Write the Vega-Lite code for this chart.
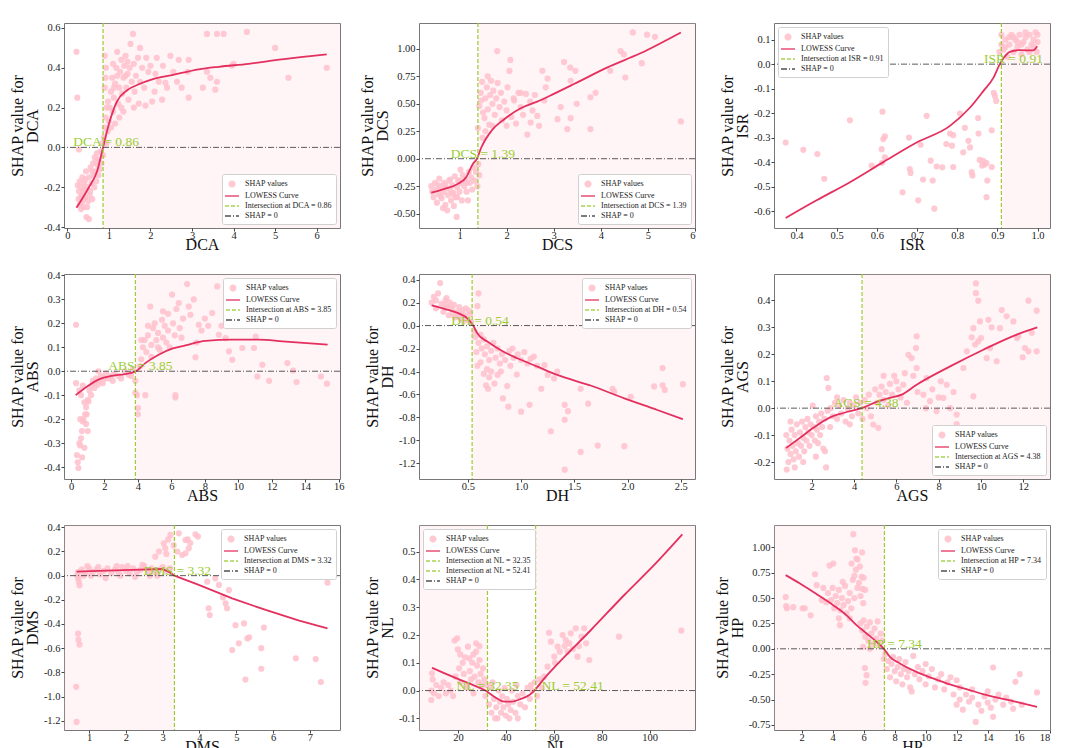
{
"$schema": "https://vega.github.io/schema/vega-lite/v6.json",
"autosize": {"type": "pad"},
"padding": {"left": 8, "top": 21, "right": 2, "bottom": 0},
"background": "white",
"columns": 3,
"bounds": "flush",
"spacing": {"row": 46, "column": 79},
"resolve": {"scale": {"color": "independent"}, "legend": {"color": "independent"}},
"config": {
  "font": "Liberation Serif",
  "view": {"stroke": "#777777", "strokeWidth": 1},
  "axis": {"grid": false, "domain": false, "labelOverlap": false, "labelFont": "Liberation Serif", "labelFontSize": 10.5, "labelColor": "#222222", "titleFont": "Liberation Serif", "titleFontSize": 16, "titleFontWeight": "normal", "titleColor": "#111111", "tickColor": "#444444", "tickSize": 3, "labelPadding": 1},
  "axisX": {"titlePadding": -4, "labelPadding": -1},
  "axisY": {"titlePadding": 3, "titleLineHeight": 15},
  "legend": {"labelFont": "Liberation Serif", "labelFontSize": 8, "labelColor": "#222222", "fillColor": "#ffffff", "strokeColor": "#d0d0d0", "padding": 4, "cornerRadius": 2, "rowPadding": 0, "symbolSize": 100, "symbolStrokeWidth": 1.6, "labelOffset": 7, "offset": 4, "labelLimit": 200}
},
"concat": [
{
 "width": 276, "height": 205,
 "layer": [
  {"data": {"values": [{"x": 0.86, "x2": 6.56}]}, "mark": {"type": "rect", "color": "#FFC0CB", "opacity": 0.18},
   "encoding": {"x": {"field": "x", "type": "quantitative", "title": "DCA", "scale": {"domain": [-0.08, 6.56], "nice": false, "zero": false}, "axis": {"values": [0,1,2,3,4,5,6], "tickCount": 20, "format": "d", "labelOverlap": false}}, "x2": {"field": "x2"}}},
  {"data": {"values": [{"x":0.22,"y":0.48},{"x":0.24,"y":0.25},{"x":0.28,"y":-0.01},{"x":0.25,"y":-0.19},{"x":0.28,"y":-0.22},{"x":0.3,"y":-0.17},{"x":0.32,"y":-0.25},{"x":0.33,"y":-0.2},{"x":0.35,"y":-0.28},{"x":0.36,"y":-0.15},{"x":0.38,"y":-0.22},{"x":0.4,"y":-0.3},{"x":0.41,"y":-0.18},{"x":0.43,"y":-0.25},{"x":0.45,"y":-0.12},{"x":0.46,"y":-0.35},{"x":0.47,"y":-0.2},{"x":0.5,"y":-0.27},{"x":0.52,"y":-0.36},{"x":0.52,"y":-0.15},{"x":0.55,"y":-0.22},{"x":0.56,"y":-0.1},{"x":0.58,"y":-0.18},{"x":0.6,"y":-0.26},{"x":0.62,"y":-0.08},{"x":0.63,"y":-0.14},{"x":0.65,"y":-0.2},{"x":0.66,"y":-0.05},{"x":0.68,"y":-0.12},{"x":0.7,"y":-0.17},{"x":0.71,"y":-0.03},{"x":0.73,"y":-0.09},{"x":0.75,"y":-0.14},{"x":0.76,"y":-0.06},{"x":0.78,"y":-0.11},{"x":0.8,"y":-0.02},{"x":0.82,"y":-0.08},{"x":0.84,"y":0.02},{"x":0.86,"y":-0.04},{"x":0.3,"y":-0.29},{"x":0.35,"y":-0.24},{"x":0.42,"y":-0.21},{"x":0.48,"y":-0.3},{"x":0.38,"y":-0.26},{"x":0.27,"y":-0.26},{"x":0.33,"y":-0.31},{"x":0.44,"y":-0.16},{"x":0.54,"y":-0.24},{"x":0.6,"y":-0.12},{"x":0.69,"y":-0.07},{"x":0.88,"y":0.05},{"x":0.9,"y":0.1},{"x":0.92,"y":0.15},{"x":0.94,"y":0.02},{"x":0.95,"y":0.2},{"x":0.97,"y":0.08},{"x":0.98,"y":0.23},{"x":1.0,"y":0.13},{"x":0.9,"y":0.3},{"x":0.93,"y":0.4},{"x":0.9,"y":0.46},{"x":0.92,"y":0.35},{"x":1.02,"y":0.2},{"x":1.05,"y":0.28},{"x":1.08,"y":0.35},{"x":1.1,"y":0.42},{"x":1.12,"y":0.25},{"x":1.15,"y":0.32},{"x":1.18,"y":0.4},{"x":1.2,"y":0.48},{"x":1.22,"y":0.22},{"x":1.25,"y":0.3},{"x":1.27,"y":0.38},{"x":1.3,"y":0.44},{"x":1.32,"y":0.27},{"x":1.35,"y":0.35},{"x":1.37,"y":0.41},{"x":1.4,"y":0.46},{"x":1.42,"y":0.3},{"x":1.45,"y":0.37},{"x":1.47,"y":0.24},{"x":1.5,"y":0.4},{"x":1.52,"y":0.52},{"x":1.55,"y":0.33},{"x":1.58,"y":0.57},{"x":1.6,"y":0.42},{"x":1.62,"y":0.28},{"x":1.65,"y":0.36},{"x":1.7,"y":0.45},{"x":1.72,"y":0.22},{"x":1.75,"y":0.33},{"x":1.8,"y":0.4},{"x":1.85,"y":0.3},{"x":1.9,"y":0.45},{"x":1.95,"y":0.38},{"x":1.1,"y":0.18},{"x":1.15,"y":0.12},{"x":1.25,"y":0.15},{"x":1.05,"y":0.1},{"x":1.3,"y":0.2},{"x":1.2,"y":0.36},{"x":1.4,"y":0.36},{"x":1.35,"y":0.18},{"x":1.6,"y":0.2},{"x":1.45,"y":0.43},{"x":1.12,"y":0.3},{"x":2.0,"y":0.41},{"x":2.04,"y":0.23},{"x":2.12,"y":0.37},{"x":1.88,"y":0.21},{"x":2.2,"y":0.33},{"x":2.28,"y":0.24},{"x":2.36,"y":0.325},{"x":2.48,"y":0.46},{"x":2.64,"y":0.33},{"x":2.68,"y":0.44},{"x":2.9,"y":0.38},{"x":2.92,"y":0.44},{"x":2.92,"y":0.25},{"x":2.3,"y":0.41},{"x":2.55,"y":0.38},{"x":2.75,"y":0.3},{"x":3.26,"y":0.3},{"x":3.36,"y":0.38},{"x":3.44,"y":0.35},{"x":3.56,"y":0.29},{"x":3.6,"y":0.33},{"x":3.36,"y":0.57},{"x":3.6,"y":0.57},{"x":3.76,"y":0.57},{"x":4.32,"y":0.58},{"x":3.96,"y":0.41},{"x":4.0,"y":0.42},{"x":5.0,"y":0.5},{"x":5.32,"y":0.35},{"x":6.24,"y":0.4},{"x":2.1,"y":0.28},{"x":2.4,"y":0.3},{"x":1.75,"y":0.5},{"x":2.15,"y":0.45}]},
   "mark": {"type": "circle", "size": 38, "opacity": 0.85},
   "encoding": {"x": {"field": "x", "type": "quantitative"}, "y": {"field": "y", "type": "quantitative", "title": ["SHAP value for", "DCA"], "scale": {"domain": [-0.405, 0.625], "nice": false, "zero": false}, "axis": {"values": [-0.4,-0.2,0,0.2,0.4,0.6], "tickCount": 20, "format": ".1f", "labelOverlap": false, "labelExpr": "replace(datum.label, '\u2212', '-')"}},
    "color": {"datum": "SHAP values", "scale": {"domain": ["SHAP values", "LOWESS Curve", "Intersection at DCA = 0.86", "SHAP = 0"], "range": ["#FFC0CB", "#E4305F", "#9ACD32", "#333333"]},
     "legend": {"title": null, "orient": "bottom-right",
      "encoding": {"symbols": {
       "shape": {"value": {"expr": "datum.value === 'SHAP values' ? 'circle' : 'M-1.4,0H1.4'"}},
       "size": {"value": {"expr": "datum.value === 'SHAP values' ? 30 : 100"}},
       "fill": {"value": {"expr": "datum.value === 'SHAP values' ? '#FFC0CB' : 'transparent'"}},
       "stroke": {"value": {"expr": "datum.value === 'SHAP values' ? 'transparent' : (datum.value === 'LOWESS Curve' ? '#E4305F' : (indexof(datum.value, 'Intersection') === 0 ? '#9ACD32' : '#333333'))"}},
       "strokeDash": {"value": {"expr": "indexof(datum.value, 'Intersection') === 0 ? [4, 2] : (datum.value === 'SHAP = 0' ? [6, 2, 1, 2] : [1, 0])"}},
       "strokeWidth": {"value": 1.6}}}}}}},
  {"data": {"values": [{"x":0.22,"y":-0.303},{"x":0.52,"y":-0.2},{"x":0.72,"y":-0.117},{"x":0.86,"y":0},{"x":1.0,"y":0.117},{"x":1.2,"y":0.233},{"x":1.44,"y":0.287},{"x":1.72,"y":0.317},{"x":2.04,"y":0.342},{"x":2.52,"y":0.363},{"x":3.16,"y":0.392},{"x":3.64,"y":0.405},{"x":4.36,"y":0.42},{"x":5.16,"y":0.442},{"x":6.24,"y":0.467}]},
   "mark": {"type": "line", "strokeWidth": 1.8, "interpolate": "monotone"},
   "encoding": {"x": {"field": "x", "type": "quantitative"}, "y": {"field": "y", "type": "quantitative"}, "color": {"datum": "LOWESS Curve"}}},
  {"data": {"values": [{"x": 0.86}]}, "mark": {"type": "rule", "strokeDash": [4, 2], "strokeWidth": 1.2},
   "encoding": {"x": {"field": "x", "type": "quantitative"}, "color": {"datum": "Intersection at DCA = 0.86"}}},
  {"data": {"values": [{"y": 0}]}, "mark": {"type": "rule", "strokeDash": [6, 2, 1, 2], "strokeWidth": 1, "opacity": 0.8},
   "encoding": {"y": {"field": "y", "type": "quantitative"}, "color": {"datum": "SHAP = 0"}}},
  {"data": {"values": [{"x": 0.86, "y": 0, "label": "DCA = 0.86"}]}, "mark": {"type": "text", "font": "Liberation Serif", "fontSize": 13.5, "color": "#9ACD32", "align": "center", "baseline": "alphabetic", "dx": 3, "dy": -1},
   "encoding": {"x": {"field": "x", "type": "quantitative"}, "y": {"field": "y", "type": "quantitative"}, "text": {"field": "label"}}}
 ]
},
{
 "width": 276, "height": 205,
 "layer": [
  {"data": {"values": [{"x": 1.39, "x2": 6.0}]}, "mark": {"type": "rect", "color": "#FFC0CB", "opacity": 0.18},
   "encoding": {"x": {"field": "x", "type": "quantitative", "title": "DCS", "scale": {"domain": [0.14, 6.0], "nice": false, "zero": false}, "axis": {"values": [1,2,3,4,5,6], "tickCount": 20, "format": "d", "labelOverlap": false}}, "x2": {"field": "x2"}}},
  {"data": {"values": [{"x":0.4,"y":-0.25},{"x":0.42,"y":-0.3},{"x":0.45,"y":-0.35},{"x":0.48,"y":-0.22},{"x":0.5,"y":-0.28},{"x":0.52,"y":-0.4},{"x":0.55,"y":-0.32},{"x":0.57,"y":-0.18},{"x":0.6,"y":-0.26},{"x":0.62,"y":-0.36},{"x":0.65,"y":-0.3},{"x":0.67,"y":-0.22},{"x":0.7,"y":-0.42},{"x":0.72,"y":-0.27},{"x":0.74,"y":-0.47},{"x":0.75,"y":-0.33},{"x":0.78,"y":-0.2},{"x":0.8,"y":-0.28},{"x":0.82,"y":-0.38},{"x":0.85,"y":-0.24},{"x":0.87,"y":-0.31},{"x":0.9,"y":-0.16},{"x":0.92,"y":-0.35},{"x":0.94,"y":-0.53},{"x":0.95,"y":-0.26},{"x":0.97,"y":-0.2},{"x":1.0,"y":-0.3},{"x":1.02,"y":-0.1},{"x":1.03,"y":-0.22},{"x":1.05,"y":-0.38},{"x":1.07,"y":-0.15},{"x":1.1,"y":-0.25},{"x":1.12,"y":-0.19},{"x":1.15,"y":-0.3},{"x":1.18,"y":-0.38},{"x":1.2,"y":-0.12},{"x":1.22,"y":-0.22},{"x":1.25,"y":-0.17},{"x":1.27,"y":-0.28},{"x":1.3,"y":-0.08},{"x":1.32,"y":-0.2},{"x":1.35,"y":-0.12},{"x":1.38,"y":-0.25},{"x":1.4,"y":-0.05},{"x":1.42,"y":-0.15},{"x":0.6,"y":-0.34},{"x":0.7,"y":-0.24},{"x":0.85,"y":-0.32},{"x":1.0,"y":-0.2},{"x":0.95,"y":-0.35},{"x":0.55,"y":-0.24},{"x":0.8,"y":-0.19},{"x":1.15,"y":-0.22},{"x":0.65,"y":-0.45},{"x":0.88,"y":-0.43},{"x":1.42,"y":0.48},{"x":1.45,"y":0.6},{"x":1.46,"y":0.53},{"x":1.48,"y":0.7},{"x":1.5,"y":0.42},{"x":1.53,"y":0.37},{"x":1.55,"y":0.55},{"x":1.58,"y":0.65},{"x":1.6,"y":0.45},{"x":1.63,"y":0.31},{"x":1.39,"y":0.28},{"x":1.49,"y":0.19},{"x":1.65,"y":0.58},{"x":1.67,"y":0.71},{"x":1.7,"y":0.5},{"x":1.72,"y":0.62},{"x":1.75,"y":0.4},{"x":1.78,"y":0.55},{"x":1.8,"y":0.98},{"x":1.81,"y":0.69},{"x":1.85,"y":0.47},{"x":1.88,"y":0.6},{"x":1.9,"y":0.35},{"x":1.95,"y":0.52},{"x":2.0,"y":0.44},{"x":2.02,"y":0.65},{"x":2.06,"y":0.8},{"x":2.08,"y":0.9},{"x":2.1,"y":0.38},{"x":2.15,"y":0.55},{"x":2.16,"y":0.53},{"x":2.2,"y":0.32},{"x":2.25,"y":0.6},{"x":2.3,"y":0.47},{"x":2.35,"y":0.4},{"x":2.41,"y":0.59},{"x":2.44,"y":0.22},{"x":2.5,"y":0.52},{"x":2.51,"y":0.33},{"x":2.55,"y":0.44},{"x":2.65,"y":0.39},{"x":2.69,"y":0.3},{"x":2.76,"y":0.8},{"x":2.87,"y":0.73},{"x":2.83,"y":0.65},{"x":2.8,"y":0.53},{"x":3.08,"y":0.36},{"x":3.15,"y":0.47},{"x":3.22,"y":0.88},{"x":3.35,"y":0.83},{"x":3.36,"y":0.71},{"x":3.46,"y":0.8},{"x":3.29,"y":0.27},{"x":3.36,"y":0.37},{"x":3.49,"y":0.5},{"x":3.78,"y":0.27},{"x":3.78,"y":0.56},{"x":3.89,"y":0.6},{"x":4.2,"y":0.8},{"x":4.42,"y":0.98},{"x":4.49,"y":0.95},{"x":4.52,"y":0.74},{"x":4.68,"y":1.15},{"x":4.87,"y":0.87},{"x":4.98,"y":1.13},{"x":5.15,"y":1.11},{"x":5.7,"y":0.34},{"x":2.6,"y":0.58},{"x":2.0,"y":0.3},{"x":1.55,"y":0.25},{"x":1.7,"y":0.3},{"x":2.3,"y":0.6},{"x":1.6,"y":0.75}]},
   "mark": {"type": "circle", "size": 38, "opacity": 0.85},
   "encoding": {"x": {"field": "x", "type": "quantitative"}, "y": {"field": "y", "type": "quantitative", "title": ["SHAP value for", "DCS"], "scale": {"domain": [-0.631, 1.236], "nice": false, "zero": false}, "axis": {"values": [-0.5,-0.25,0,0.25,0.5,0.75,1.0], "tickCount": 20, "format": ".2f", "labelOverlap": false, "labelExpr": "replace(datum.label, '\u2212', '-')"}},
    "color": {"datum": "SHAP values", "scale": {"domain": ["SHAP values", "LOWESS Curve", "Intersection at DCS = 1.39", "SHAP = 0"], "range": ["#FFC0CB", "#E4305F", "#9ACD32", "#333333"]},
     "legend": {"title": null, "orient": "bottom-right",
      "encoding": {"symbols": {
       "shape": {"value": {"expr": "datum.value === 'SHAP values' ? 'circle' : 'M-1.4,0H1.4'"}},
       "size": {"value": {"expr": "datum.value === 'SHAP values' ? 30 : 100"}},
       "fill": {"value": {"expr": "datum.value === 'SHAP values' ? '#FFC0CB' : 'transparent'"}},
       "stroke": {"value": {"expr": "datum.value === 'SHAP values' ? 'transparent' : (datum.value === 'LOWESS Curve' ? '#E4305F' : (indexof(datum.value, 'Intersection') === 0 ? '#9ACD32' : '#333333'))"}},
       "strokeDash": {"value": {"expr": "indexof(datum.value, 'Intersection') === 0 ? [4, 2] : (datum.value === 'SHAP = 0' ? [6, 2, 1, 2] : [1, 0])"}},
       "strokeWidth": {"value": 1.6}}}}}}},
  {"data": {"values": [{"x":0.4,"y":-0.31},{"x":0.68,"y":-0.275},{"x":0.96,"y":-0.23},{"x":1.14,"y":-0.17},{"x":1.28,"y":-0.05},{"x":1.37,"y":0},{"x":1.46,"y":0.1},{"x":1.67,"y":0.25},{"x":1.95,"y":0.36},{"x":2.3,"y":0.46},{"x":2.65,"y":0.52},{"x":3.0,"y":0.59},{"x":3.43,"y":0.68},{"x":4.13,"y":0.83},{"x":4.84,"y":0.96},{"x":5.7,"y":1.15}]},
   "mark": {"type": "line", "strokeWidth": 1.8, "interpolate": "monotone"},
   "encoding": {"x": {"field": "x", "type": "quantitative"}, "y": {"field": "y", "type": "quantitative"}, "color": {"datum": "LOWESS Curve"}}},
  {"data": {"values": [{"x": 1.39}]}, "mark": {"type": "rule", "strokeDash": [4, 2], "strokeWidth": 1.2},
   "encoding": {"x": {"field": "x", "type": "quantitative"}, "color": {"datum": "Intersection at DCS = 1.39"}}},
  {"data": {"values": [{"y": 0}]}, "mark": {"type": "rule", "strokeDash": [6, 2, 1, 2], "strokeWidth": 1, "opacity": 0.8},
   "encoding": {"y": {"field": "y", "type": "quantitative"}, "color": {"datum": "SHAP = 0"}}},
  {"data": {"values": [{"x": 1.39, "y": 0, "label": "DCS = 1.39"}]}, "mark": {"type": "text", "font": "Liberation Serif", "fontSize": 13.5, "color": "#9ACD32", "align": "center", "baseline": "alphabetic", "dx": 5, "dy": -1},
   "encoding": {"x": {"field": "x", "type": "quantitative"}, "y": {"field": "y", "type": "quantitative"}, "text": {"field": "label"}}}
 ]
},
{
 "width": 276, "height": 205,
 "layer": [
  {"data": {"values": [{"x": 0.91, "x2": 1.031}]}, "mark": {"type": "rect", "color": "#FFC0CB", "opacity": 0.18},
   "encoding": {"x": {"field": "x", "type": "quantitative", "title": "ISR", "scale": {"domain": [0.344, 1.031], "nice": false, "zero": false}, "axis": {"values": [0.4,0.5,0.6,0.7,0.8,0.9,1.0], "tickCount": 20, "format": ".1f", "labelOverlap": false}}, "x2": {"field": "x2"}}},
  {"data": {"values": [{"x":0.373,"y":-0.32},{"x":0.417,"y":-0.35},{"x":0.452,"y":-0.367},{"x":0.469,"y":-0.468},{"x":0.533,"y":-0.229},{"x":0.587,"y":-0.414},{"x":0.614,"y":-0.194},{"x":0.612,"y":-0.347},{"x":0.616,"y":-0.306},{"x":0.62,"y":-0.38},{"x":0.613,"y":-0.403},{"x":0.62,"y":-0.295},{"x":0.664,"y":-0.523},{"x":0.68,"y":-0.3},{"x":0.682,"y":-0.428},{"x":0.684,"y":-0.444},{"x":0.703,"y":-0.556},{"x":0.709,"y":-0.329},{"x":0.715,"y":-0.471},{"x":0.724,"y":-0.211},{"x":0.734,"y":-0.394},{"x":0.739,"y":-0.475},{"x":0.743,"y":-0.59},{"x":0.749,"y":-0.418},{"x":0.763,"y":-0.421},{"x":0.773,"y":-0.326},{"x":0.782,"y":-0.283},{"x":0.79,"y":-0.29},{"x":0.787,"y":-0.333},{"x":0.79,"y":-0.42},{"x":0.807,"y":-0.202},{"x":0.815,"y":-0.36},{"x":0.819,"y":-0.26},{"x":0.828,"y":-0.313},{"x":0.832,"y":-0.34},{"x":0.836,"y":-0.441},{"x":0.838,"y":-0.455},{"x":0.852,"y":-0.22},{"x":0.853,"y":-0.283},{"x":0.856,"y":-0.391},{"x":0.862,"y":-0.414},{"x":0.865,"y":-0.395},{"x":0.868,"y":-0.41},{"x":0.873,"y":-0.404},{"x":0.875,"y":-0.475},{"x":0.873,"y":-0.543},{"x":0.886,"y":-0.42},{"x":0.886,"y":-0.27},{"x":0.894,"y":-0.13},{"x":0.891,"y":-0.117},{"x":0.897,"y":-0.15},{"x":0.905,"y":0.05},{"x":0.91,"y":0.12},{"x":0.915,"y":0.06},{"x":0.92,"y":0.1},{"x":0.925,"y":0.03},{"x":0.93,"y":0.08},{"x":0.935,"y":0.12},{"x":0.94,"y":0.05},{"x":0.945,"y":0.1},{"x":0.95,"y":0.07},{"x":0.955,"y":0.12},{"x":0.96,"y":0.04},{"x":0.965,"y":0.09},{"x":0.97,"y":0.11},{"x":0.975,"y":0.06},{"x":0.98,"y":0.12},{"x":0.985,"y":0.08},{"x":0.99,"y":0.1},{"x":0.995,"y":0.13},{"x":1.0,"y":0.09},{"x":1.0,"y":0.12},{"x":0.998,"y":0.05},{"x":0.92,"y":0.07},{"x":0.94,"y":0.11},{"x":0.96,"y":0.08},{"x":0.98,"y":0.05},{"x":0.93,"y":0.11},{"x":0.97,"y":0.13},{"x":0.95,"y":0.09},{"x":0.91,"y":0.08},{"x":0.99,"y":0.07}]},
   "mark": {"type": "circle", "size": 38, "opacity": 0.85},
   "encoding": {"x": {"field": "x", "type": "quantitative"}, "y": {"field": "y", "type": "quantitative", "title": ["SHAP value for", "ISR"], "scale": {"domain": [-0.669, 0.168], "nice": false, "zero": false}, "axis": {"values": [-0.6,-0.5,-0.4,-0.3,-0.2,-0.1,0,0.1], "tickCount": 20, "format": ".1f", "labelOverlap": false, "labelExpr": "replace(datum.label, '\u2212', '-')"}},
    "color": {"datum": "SHAP values", "scale": {"domain": ["SHAP values", "LOWESS Curve", "Intersection at ISR = 0.91", "SHAP = 0"], "range": ["#FFC0CB", "#E4305F", "#9ACD32", "#333333"]},
     "legend": {"title": null, "orient": "top-left",
      "encoding": {"symbols": {
       "shape": {"value": {"expr": "datum.value === 'SHAP values' ? 'circle' : 'M-1.4,0H1.4'"}},
       "size": {"value": {"expr": "datum.value === 'SHAP values' ? 30 : 100"}},
       "fill": {"value": {"expr": "datum.value === 'SHAP values' ? '#FFC0CB' : 'transparent'"}},
       "stroke": {"value": {"expr": "datum.value === 'SHAP values' ? 'transparent' : (datum.value === 'LOWESS Curve' ? '#E4305F' : (indexof(datum.value, 'Intersection') === 0 ? '#9ACD32' : '#333333'))"}},
       "strokeDash": {"value": {"expr": "indexof(datum.value, 'Intersection') === 0 ? [4, 2] : (datum.value === 'SHAP = 0' ? [6, 2, 1, 2] : [1, 0])"}},
       "strokeWidth": {"value": 1.6}}}}}}},
  {"data": {"values": [{"x":0.373,"y":-0.628},{"x":0.45,"y":-0.556},{"x":0.533,"y":-0.482},{"x":0.616,"y":-0.4},{"x":0.699,"y":-0.32},{"x":0.782,"y":-0.252},{"x":0.832,"y":-0.177},{"x":0.865,"y":-0.11},{"x":0.89,"y":-0.056},{"x":0.906,"y":0},{"x":0.916,"y":0.026},{"x":0.931,"y":0.05},{"x":0.956,"y":0.057},{"x":0.989,"y":0.056},{"x":0.999,"y":0.073}]},
   "mark": {"type": "line", "strokeWidth": 1.8, "interpolate": "monotone"},
   "encoding": {"x": {"field": "x", "type": "quantitative"}, "y": {"field": "y", "type": "quantitative"}, "color": {"datum": "LOWESS Curve"}}},
  {"data": {"values": [{"x": 0.91}]}, "mark": {"type": "rule", "strokeDash": [4, 2], "strokeWidth": 1.2},
   "encoding": {"x": {"field": "x", "type": "quantitative"}, "color": {"datum": "Intersection at ISR = 0.91"}}},
  {"data": {"values": [{"y": 0}]}, "mark": {"type": "rule", "strokeDash": [6, 2, 1, 2], "strokeWidth": 1, "opacity": 0.8},
   "encoding": {"y": {"field": "y", "type": "quantitative"}, "color": {"datum": "SHAP = 0"}}},
  {"data": {"values": [{"x": 0.91, "y": 0, "label": "ISR = 0.91"}]}, "mark": {"type": "text", "font": "Liberation Serif", "fontSize": 13.5, "color": "#9ACD32", "align": "center", "baseline": "alphabetic", "dx": 12, "dy": -1},
   "encoding": {"x": {"field": "x", "type": "quantitative"}, "y": {"field": "y", "type": "quantitative"}, "text": {"field": "label"}}}
 ]
},
{
 "width": 276, "height": 205,
 "layer": [
  {"data": {"values": [{"x": 3.85, "x2": 16.08}]}, "mark": {"type": "rect", "color": "#FFC0CB", "opacity": 0.18},
   "encoding": {"x": {"field": "x", "type": "quantitative", "title": "ABS", "scale": {"domain": [-0.42, 16.08], "nice": false, "zero": false}, "axis": {"values": [0,2,4,6,8,10,12,14,16], "tickCount": 20, "format": "d", "labelOverlap": false}}, "x2": {"field": "x2"}}},
  {"data": {"values": [{"x":0.3,"y":0.194},{"x":0.3,"y":-0.05},{"x":0.35,"y":-0.35},{"x":0.4,"y":-0.38},{"x":0.44,"y":-0.404},{"x":0.5,"y":-0.3},{"x":0.54,"y":-0.31},{"x":0.6,"y":-0.28},{"x":0.65,"y":-0.25},{"x":0.7,"y":-0.21},{"x":0.74,"y":-0.2},{"x":0.8,"y":-0.32},{"x":0.84,"y":-0.18},{"x":0.9,"y":-0.15},{"x":0.94,"y":-0.18},{"x":1.0,"y":-0.12},{"x":1.04,"y":-0.126},{"x":1.1,"y":-0.08},{"x":1.2,"y":-0.1},{"x":1.24,"y":-0.06},{"x":1.3,"y":-0.04},{"x":1.4,"y":-0.07},{"x":1.44,"y":-0.05},{"x":1.5,"y":-0.03},{"x":1.6,"y":-0.056},{"x":1.64,"y":0.0},{"x":1.7,"y":-0.04},{"x":1.8,"y":-0.02},{"x":1.9,"y":-0.05},{"x":2.0,"y":-0.03},{"x":2.1,"y":-0.01},{"x":2.24,"y":-0.03},{"x":2.4,"y":-0.02},{"x":2.5,"y":-0.04},{"x":2.6,"y":-0.01},{"x":2.84,"y":-0.02},{"x":3.0,"y":-0.03},{"x":3.2,"y":0.0},{"x":3.44,"y":-0.015},{"x":3.6,"y":-0.02},{"x":3.7,"y":0.01},{"x":3.84,"y":-0.04},{"x":3.84,"y":-0.09},{"x":3.94,"y":-0.1},{"x":4.0,"y":-0.154},{"x":4.0,"y":-0.18},{"x":4.44,"y":-0.1},{"x":0.6,"y":-0.1},{"x":0.7,"y":-0.06},{"x":0.5,"y":-0.08},{"x":0.9,"y":-0.22},{"x":0.8,"y":-0.13},{"x":1.0,"y":-0.25},{"x":0.66,"y":-0.36},{"x":0.55,"y":-0.2},{"x":4.1,"y":0.02},{"x":4.2,"y":0.05},{"x":4.3,"y":0.1},{"x":4.4,"y":0.13},{"x":4.5,"y":0.08},{"x":4.6,"y":0.15},{"x":4.74,"y":0.27},{"x":4.8,"y":0.11},{"x":4.9,"y":0.18},{"x":5.0,"y":0.2},{"x":5.1,"y":0.13},{"x":5.2,"y":0.16},{"x":5.3,"y":0.09},{"x":5.44,"y":0.215},{"x":5.5,"y":0.14},{"x":5.6,"y":0.19},{"x":5.7,"y":0.12},{"x":5.8,"y":0.17},{"x":5.9,"y":0.1},{"x":6.04,"y":0.32},{"x":6.1,"y":0.2},{"x":6.2,"y":0.15},{"x":6.24,"y":-0.1},{"x":6.24,"y":-0.11},{"x":6.44,"y":0.285},{"x":6.5,"y":0.18},{"x":6.7,"y":0.22},{"x":6.94,"y":0.364},{"x":7.04,"y":0.27},{"x":7.14,"y":0.236},{"x":7.34,"y":0.3},{"x":7.44,"y":0.058},{"x":7.64,"y":0.194},{"x":7.8,"y":0.17},{"x":8.0,"y":0.22},{"x":8.2,"y":0.19},{"x":8.44,"y":0.243},{"x":8.74,"y":0.354},{"x":8.84,"y":0.152},{"x":9.0,"y":0.19},{"x":9.24,"y":0.138},{"x":9.44,"y":0.083},{"x":9.64,"y":0.048},{"x":10.04,"y":0.2},{"x":10.24,"y":0.097},{"x":10.94,"y":0.097},{"x":11.04,"y":0.145},{"x":11.14,"y":-0.022},{"x":11.44,"y":0.027},{"x":11.84,"y":-0.04},{"x":12.94,"y":0.034},{"x":13.28,"y":0.003},{"x":13.48,"y":-0.045},{"x":14.94,"y":-0.022},{"x":15.3,"y":-0.052},{"x":4.2,"y":0.13},{"x":4.6,"y":0.19},{"x":5.2,"y":0.1},{"x":5.8,"y":0.24},{"x":6.6,"y":0.14},{"x":7.5,"y":0.12},{"x":4.8,"y":0.06},{"x":5.5,"y":0.25},{"x":6.3,"y":0.26}]},
   "mark": {"type": "circle", "size": 38, "opacity": 0.85},
   "encoding": {"x": {"field": "x", "type": "quantitative"}, "y": {"field": "y", "type": "quantitative", "title": ["SHAP value for", "ABS"], "scale": {"domain": [-0.45, 0.406], "nice": false, "zero": false}, "axis": {"values": [-0.4,-0.3,-0.2,-0.1,0,0.1,0.2,0.3,0.4], "tickCount": 20, "format": ".1f", "labelOverlap": false, "labelExpr": "replace(datum.label, '\u2212', '-')"}},
    "color": {"datum": "SHAP values", "scale": {"domain": ["SHAP values", "LOWESS Curve", "Intersection at ABS = 3.85", "SHAP = 0"], "range": ["#FFC0CB", "#E4305F", "#9ACD32", "#333333"]},
     "legend": {"title": null, "orient": "top-right",
      "encoding": {"symbols": {
       "shape": {"value": {"expr": "datum.value === 'SHAP values' ? 'circle' : 'M-1.4,0H1.4'"}},
       "size": {"value": {"expr": "datum.value === 'SHAP values' ? 30 : 100"}},
       "fill": {"value": {"expr": "datum.value === 'SHAP values' ? '#FFC0CB' : 'transparent'"}},
       "stroke": {"value": {"expr": "datum.value === 'SHAP values' ? 'transparent' : (datum.value === 'LOWESS Curve' ? '#E4305F' : (indexof(datum.value, 'Intersection') === 0 ? '#9ACD32' : '#333333'))"}},
       "strokeDash": {"value": {"expr": "indexof(datum.value, 'Intersection') === 0 ? [4, 2] : (datum.value === 'SHAP = 0' ? [6, 2, 1, 2] : [1, 0])"}},
       "strokeWidth": {"value": 1.6}}}}}}},
  {"data": {"values": [{"x":0.28,"y":-0.1},{"x":0.84,"y":-0.07},{"x":1.64,"y":-0.035},{"x":2.44,"y":-0.019},{"x":3.24,"y":-0.012},{"x":3.88,"y":0},{"x":4.44,"y":0.034},{"x":5.24,"y":0.069},{"x":6.04,"y":0.094},{"x":6.84,"y":0.108},{"x":8.04,"y":0.127},{"x":9.64,"y":0.132},{"x":11.24,"y":0.132},{"x":12.64,"y":0.125},{"x":15.34,"y":0.111}]},
   "mark": {"type": "line", "strokeWidth": 1.8, "interpolate": "monotone"},
   "encoding": {"x": {"field": "x", "type": "quantitative"}, "y": {"field": "y", "type": "quantitative"}, "color": {"datum": "LOWESS Curve"}}},
  {"data": {"values": [{"x": 3.85}]}, "mark": {"type": "rule", "strokeDash": [4, 2], "strokeWidth": 1.2},
   "encoding": {"x": {"field": "x", "type": "quantitative"}, "color": {"datum": "Intersection at ABS = 3.85"}}},
  {"data": {"values": [{"y": 0}]}, "mark": {"type": "rule", "strokeDash": [6, 2, 1, 2], "strokeWidth": 1, "opacity": 0.8},
   "encoding": {"y": {"field": "y", "type": "quantitative"}, "color": {"datum": "SHAP = 0"}}},
  {"data": {"values": [{"x": 3.85, "y": 0, "label": "ABS = 3.85"}]}, "mark": {"type": "text", "font": "Liberation Serif", "fontSize": 13.5, "color": "#9ACD32", "align": "center", "baseline": "alphabetic", "dx": 5, "dy": -1},
   "encoding": {"x": {"field": "x", "type": "quantitative"}, "y": {"field": "y", "type": "quantitative"}, "text": {"field": "label"}}}
 ]
},
{
 "width": 276, "height": 205,
 "layer": [
  {"data": {"values": [{"x": 0.54, "x2": 2.634}]}, "mark": {"type": "rect", "color": "#FFC0CB", "opacity": 0.18},
   "encoding": {"x": {"field": "x", "type": "quantitative", "title": "DH", "scale": {"domain": [0.041, 2.634], "nice": false, "zero": false}, "axis": {"values": [0.5,1.0,1.5,2.0,2.5], "tickCount": 20, "format": ".1f", "labelOverlap": false}}, "x2": {"field": "x2"}}},
  {"data": {"values": [{"x":0.16,"y":0.2},{"x":0.18,"y":0.25},{"x":0.2,"y":0.15},{"x":0.22,"y":0.28},{"x":0.24,"y":0.37},{"x":0.25,"y":0.19},{"x":0.27,"y":0.12},{"x":0.29,"y":0.22},{"x":0.3,"y":0.16},{"x":0.32,"y":0.09},{"x":0.33,"y":0.2},{"x":0.35,"y":0.14},{"x":0.37,"y":0.18},{"x":0.38,"y":0.07},{"x":0.4,"y":0.12},{"x":0.42,"y":0.16},{"x":0.43,"y":0.06},{"x":0.45,"y":0.13},{"x":0.47,"y":0.09},{"x":0.48,"y":0.15},{"x":0.5,"y":0.05},{"x":0.52,"y":0.1},{"x":0.53,"y":0.03},{"x":0.2,"y":0.22},{"x":0.3,"y":0.24},{"x":0.36,"y":0.1},{"x":0.44,"y":0.1},{"x":0.28,"y":0.18},{"x":0.34,"y":0.17},{"x":0.46,"y":0.04},{"x":0.51,"y":0.13},{"x":0.41,"y":0.08},{"x":0.6,"y":0.28},{"x":0.59,"y":0.17},{"x":0.56,"y":-0.05},{"x":0.57,"y":-0.1},{"x":0.58,"y":-0.23},{"x":0.59,"y":-0.35},{"x":0.6,"y":-0.15},{"x":0.62,"y":-0.08},{"x":0.63,"y":-0.2},{"x":0.65,"y":-0.12},{"x":0.66,"y":-0.25},{"x":0.67,"y":-0.52},{"x":0.68,"y":-0.18},{"x":0.69,"y":-0.55},{"x":0.7,"y":-0.3},{"x":0.72,"y":-0.4},{"x":0.72,"y":-0.22},{"x":0.74,"y":-0.15},{"x":0.75,"y":-0.505},{"x":0.76,"y":-0.28},{"x":0.78,"y":-0.2},{"x":0.8,"y":-0.33},{"x":0.81,"y":-0.4},{"x":0.82,"y":-0.25},{"x":0.83,"y":-0.634},{"x":0.85,"y":-0.3},{"x":0.87,"y":-0.527},{"x":0.88,"y":-0.706},{"x":0.89,"y":-0.22},{"x":0.9,"y":-0.35},{"x":0.92,"y":-0.2},{"x":0.93,"y":-0.28},{"x":0.96,"y":-0.426},{"x":0.97,"y":-0.25},{"x":1.0,"y":-0.75},{"x":1.0,"y":-0.3},{"x":1.03,"y":-0.23},{"x":1.06,"y":-0.33},{"x":1.08,"y":-0.69},{"x":1.09,"y":-0.29},{"x":1.12,"y":-0.27},{"x":1.15,"y":-0.35},{"x":1.19,"y":-0.55},{"x":1.22,"y":-0.345},{"x":1.25,"y":-0.43},{"x":1.28,"y":-0.92},{"x":1.31,"y":-0.46},{"x":1.34,"y":-0.4},{"x":1.41,"y":-0.69},{"x":1.41,"y":-0.82},{"x":1.41,"y":-1.255},{"x":1.44,"y":-0.745},{"x":1.56,"y":-0.55},{"x":1.56,"y":-1.1},{"x":1.63,"y":-0.68},{"x":1.72,"y":-1.045},{"x":1.86,"y":-0.55},{"x":1.875,"y":-0.577},{"x":1.97,"y":-1.05},{"x":2.03,"y":-0.62},{"x":2.25,"y":-0.53},{"x":2.33,"y":-0.37},{"x":2.33,"y":-0.52},{"x":2.35,"y":-0.56},{"x":2.52,"y":-0.51},{"x":0.65,"y":-0.42},{"x":0.7,"y":-0.45},{"x":0.78,"y":-0.43},{"x":0.62,"y":-0.32},{"x":0.68,"y":-0.38}]},
   "mark": {"type": "circle", "size": 38, "opacity": 0.85},
   "encoding": {"x": {"field": "x", "type": "quantitative"}, "y": {"field": "y", "type": "quantitative", "title": ["SHAP value for", "DH"], "scale": {"domain": [-1.336, 0.449], "nice": false, "zero": false}, "axis": {"values": [-1.2,-1.0,-0.8,-0.6,-0.4,-0.2,0,0.2,0.4], "tickCount": 20, "format": ".1f", "labelOverlap": false, "labelExpr": "replace(datum.label, '\u2212', '-')"}},
    "color": {"datum": "SHAP values", "scale": {"domain": ["SHAP values", "LOWESS Curve", "Intersection at DH = 0.54", "SHAP = 0"], "range": ["#FFC0CB", "#E4305F", "#9ACD32", "#333333"]},
     "legend": {"title": null, "orient": "top-right",
      "encoding": {"symbols": {
       "shape": {"value": {"expr": "datum.value === 'SHAP values' ? 'circle' : 'M-1.4,0H1.4'"}},
       "size": {"value": {"expr": "datum.value === 'SHAP values' ? 30 : 100"}},
       "fill": {"value": {"expr": "datum.value === 'SHAP values' ? '#FFC0CB' : 'transparent'"}},
       "stroke": {"value": {"expr": "datum.value === 'SHAP values' ? 'transparent' : (datum.value === 'LOWESS Curve' ? '#E4305F' : (indexof(datum.value, 'Intersection') === 0 ? '#9ACD32' : '#333333'))"}},
       "strokeDash": {"value": {"expr": "indexof(datum.value, 'Intersection') === 0 ? [4, 2] : (datum.value === 'SHAP = 0' ? [6, 2, 1, 2] : [1, 0])"}},
       "strokeWidth": {"value": 1.6}}}}}}},
  {"data": {"values": [{"x":0.16,"y":0.175},{"x":0.28,"y":0.146},{"x":0.41,"y":0.108},{"x":0.5,"y":0.059},{"x":0.55,"y":0},{"x":0.59,"y":-0.07},{"x":0.69,"y":-0.143},{"x":0.81,"y":-0.215},{"x":0.97,"y":-0.287},{"x":1.16,"y":-0.36},{"x":1.34,"y":-0.43},{"x":1.66,"y":-0.524},{"x":1.97,"y":-0.634},{"x":2.28,"y":-0.735},{"x":2.52,"y":-0.816}]},
   "mark": {"type": "line", "strokeWidth": 1.8, "interpolate": "monotone"},
   "encoding": {"x": {"field": "x", "type": "quantitative"}, "y": {"field": "y", "type": "quantitative"}, "color": {"datum": "LOWESS Curve"}}},
  {"data": {"values": [{"x": 0.54}]}, "mark": {"type": "rule", "strokeDash": [4, 2], "strokeWidth": 1.2},
   "encoding": {"x": {"field": "x", "type": "quantitative"}, "color": {"datum": "Intersection at DH = 0.54"}}},
  {"data": {"values": [{"y": 0}]}, "mark": {"type": "rule", "strokeDash": [6, 2, 1, 2], "strokeWidth": 1, "opacity": 0.8},
   "encoding": {"y": {"field": "y", "type": "quantitative"}, "color": {"datum": "SHAP = 0"}}},
  {"data": {"values": [{"x": 0.54, "y": 0, "label": "DH = 0.54"}]}, "mark": {"type": "text", "font": "Liberation Serif", "fontSize": 13.5, "color": "#9ACD32", "align": "center", "baseline": "alphabetic", "dx": 8, "dy": -1},
   "encoding": {"x": {"field": "x", "type": "quantitative"}, "y": {"field": "y", "type": "quantitative"}, "text": {"field": "label"}}}
 ]
},
{
 "width": 276, "height": 205,
 "layer": [
  {"data": {"values": [{"x": 4.38, "x2": 13.26}]}, "mark": {"type": "rect", "color": "#FFC0CB", "opacity": 0.18},
   "encoding": {"x": {"field": "x", "type": "quantitative", "title": "AGS", "scale": {"domain": [0.22, 13.26], "nice": false, "zero": false}, "axis": {"values": [2,4,6,8,10,12], "tickCount": 20, "format": "d", "labelOverlap": false}}, "x2": {"field": "x2"}}},
  {"data": {"values": [{"x":0.8,"y":-0.1},{"x":0.82,"y":-0.228},{"x":0.85,"y":-0.15},{"x":0.9,"y":-0.2},{"x":0.95,"y":-0.12},{"x":1.0,"y":-0.17},{"x":1.05,"y":-0.08},{"x":1.1,"y":-0.14},{"x":1.15,"y":-0.19},{"x":1.2,"y":-0.1},{"x":1.25,"y":-0.16},{"x":1.3,"y":-0.06},{"x":1.35,"y":-0.13},{"x":1.4,"y":-0.18},{"x":1.45,"y":-0.09},{"x":1.5,"y":-0.14},{"x":1.55,"y":-0.05},{"x":1.6,"y":-0.11},{"x":1.65,"y":-0.16},{"x":1.7,"y":-0.07},{"x":1.75,"y":-0.12},{"x":1.8,"y":-0.04},{"x":1.85,"y":-0.09},{"x":1.9,"y":-0.14},{"x":1.95,"y":-0.06},{"x":2.0,"y":-0.1},{"x":2.05,"y":0.01},{"x":2.1,"y":-0.07},{"x":2.15,"y":-0.12},{"x":2.2,"y":-0.03},{"x":2.25,"y":-0.08},{"x":2.3,"y":-0.13},{"x":2.35,"y":-0.05},{"x":2.4,"y":-0.1},{"x":2.45,"y":-0.02},{"x":2.5,"y":-0.07},{"x":2.55,"y":-0.15},{"x":2.63,"y":-0.16},{"x":2.6,"y":-0.04},{"x":2.68,"y":-0.22},{"x":2.71,"y":0.112},{"x":2.79,"y":0.075},{"x":2.87,"y":-0.07},{"x":2.75,"y":-0.01},{"x":1.2,"y":-0.22},{"x":1.6,"y":-0.2},{"x":2.2,"y":-0.18},{"x":1.0,"y":-0.05},{"x":2.9,"y":0.0},{"x":3.0,"y":-0.03},{"x":3.1,"y":0.02},{"x":3.2,"y":-0.04},{"x":3.3,"y":0.01},{"x":3.4,"y":-0.02},{"x":3.5,"y":0.03},{"x":3.6,"y":-0.05},{"x":3.7,"y":0.0},{"x":3.8,"y":0.02},{"x":3.9,"y":-0.03},{"x":4.0,"y":0.01},{"x":4.1,"y":0.04},{"x":4.2,"y":-0.02},{"x":4.3,"y":0.02},{"x":4.4,"y":-0.04},{"x":4.5,"y":0.03},{"x":4.6,"y":0.0},{"x":3.2,"y":0.04},{"x":3.8,"y":-0.06},{"x":4.7,"y":0.05},{"x":4.8,"y":-0.03},{"x":4.91,"y":-0.061},{"x":5.0,"y":0.07},{"x":5.1,"y":0.02},{"x":5.15,"y":-0.073},{"x":5.2,"y":0.05},{"x":5.3,"y":0.08},{"x":5.4,"y":0.03},{"x":5.5,"y":0.06},{"x":5.6,"y":0.01},{"x":5.7,"y":0.09},{"x":5.8,"y":0.05},{"x":5.9,"y":0.12},{"x":6.0,"y":0.1},{"x":6.1,"y":0.07},{"x":6.2,"y":0.04},{"x":6.33,"y":0.087},{"x":6.4,"y":0.13},{"x":6.57,"y":0.198},{"x":6.72,"y":0.186},{"x":6.8,"y":0.12},{"x":6.93,"y":0.223},{"x":6.96,"y":0.267},{"x":6.96,"y":0.149},{"x":7.0,"y":0.06},{"x":5.4,"y":0.12},{"x":6.5,"y":0.02},{"x":7.28,"y":0.05},{"x":7.43,"y":0.112},{"x":7.59,"y":0.026},{"x":7.7,"y":0.07},{"x":7.9,"y":-0.011},{"x":8.0,"y":0.04},{"x":8.22,"y":0.038},{"x":8.38,"y":0.087},{"x":8.54,"y":0.0},{"x":8.7,"y":0.06},{"x":8.85,"y":-0.024},{"x":8.85,"y":-0.059},{"x":9.17,"y":0.149},{"x":9.33,"y":0.211},{"x":9.56,"y":0.263},{"x":9.64,"y":0.297},{"x":9.72,"y":0.236},{"x":9.76,"y":0.463},{"x":9.76,"y":0.427},{"x":9.87,"y":0.399},{"x":9.95,"y":0.322},{"x":9.87,"y":0.248},{"x":9.64,"y":0.044},{"x":10.0,"y":0.26},{"x":10.27,"y":0.186},{"x":10.35,"y":0.328},{"x":10.43,"y":0.223},{"x":10.74,"y":0.174},{"x":10.98,"y":0.364},{"x":10.9,"y":0.297},{"x":11.21,"y":0.341},{"x":11.53,"y":0.322},{"x":11.76,"y":0.267},{"x":11.97,"y":0.189},{"x":12.08,"y":0.223},{"x":12.24,"y":0.399},{"x":12.24,"y":0.211},{"x":12.63,"y":0.362},{"x":12.63,"y":0.211},{"x":12.4,"y":0.28},{"x":11.7,"y":0.26},{"x":10.5,"y":0.3},{"x":7.4,"y":0.0},{"x":8.1,"y":0.1}]},
   "mark": {"type": "circle", "size": 38, "opacity": 0.85},
   "encoding": {"x": {"field": "x", "type": "quantitative"}, "y": {"field": "y", "type": "quantitative", "title": ["SHAP value for", "AGS"], "scale": {"domain": [-0.263, 0.498], "nice": false, "zero": false}, "axis": {"values": [-0.2,-0.1,0,0.1,0.2,0.3,0.4], "tickCount": 20, "format": ".1f", "labelOverlap": false, "labelExpr": "replace(datum.label, '\u2212', '-')"}},
    "color": {"datum": "SHAP values", "scale": {"domain": ["SHAP values", "LOWESS Curve", "Intersection at AGS = 4.38", "SHAP = 0"], "range": ["#FFC0CB", "#E4305F", "#9ACD32", "#333333"]},
     "legend": {"title": null, "orient": "bottom-right",
      "encoding": {"symbols": {
       "shape": {"value": {"expr": "datum.value === 'SHAP values' ? 'circle' : 'M-1.4,0H1.4'"}},
       "size": {"value": {"expr": "datum.value === 'SHAP values' ? 30 : 100"}},
       "fill": {"value": {"expr": "datum.value === 'SHAP values' ? '#FFC0CB' : 'transparent'"}},
       "stroke": {"value": {"expr": "datum.value === 'SHAP values' ? 'transparent' : (datum.value === 'LOWESS Curve' ? '#E4305F' : (indexof(datum.value, 'Intersection') === 0 ? '#9ACD32' : '#333333'))"}},
       "strokeDash": {"value": {"expr": "indexof(datum.value, 'Intersection') === 0 ? [4, 2] : (datum.value === 'SHAP = 0' ? [6, 2, 1, 2] : [1, 0])"}},
       "strokeWidth": {"value": 1.6}}}}}}},
  {"data": {"values": [{"x":0.79,"y":-0.148},{"x":1.45,"y":-0.11},{"x":2.08,"y":-0.073},{"x":2.87,"y":-0.034},{"x":3.5,"y":-0.018},{"x":4.36,"y":0},{"x":5.07,"y":0.023},{"x":5.7,"y":0.038},{"x":6.25,"y":0.05},{"x":6.96,"y":0.087},{"x":8.54,"y":0.155},{"x":10.11,"y":0.217},{"x":11.69,"y":0.273},{"x":12.66,"y":0.3}]},
   "mark": {"type": "line", "strokeWidth": 1.8, "interpolate": "monotone"},
   "encoding": {"x": {"field": "x", "type": "quantitative"}, "y": {"field": "y", "type": "quantitative"}, "color": {"datum": "LOWESS Curve"}}},
  {"data": {"values": [{"x": 4.38}]}, "mark": {"type": "rule", "strokeDash": [4, 2], "strokeWidth": 1.2},
   "encoding": {"x": {"field": "x", "type": "quantitative"}, "color": {"datum": "Intersection at AGS = 4.38"}}},
  {"data": {"values": [{"y": 0}]}, "mark": {"type": "rule", "strokeDash": [6, 2, 1, 2], "strokeWidth": 1, "opacity": 0.8},
   "encoding": {"y": {"field": "y", "type": "quantitative"}, "color": {"datum": "SHAP = 0"}}},
  {"data": {"values": [{"x": 4.38, "y": 0, "label": "AGS = 4.38"}]}, "mark": {"type": "text", "font": "Liberation Serif", "fontSize": 13.5, "color": "#9ACD32", "align": "center", "baseline": "alphabetic", "dx": 4, "dy": -1},
   "encoding": {"x": {"field": "x", "type": "quantitative"}, "y": {"field": "y", "type": "quantitative"}, "text": {"field": "label"}}}
 ]
},
{
 "width": 276, "height": 205,
 "layer": [
  {"data": {"values": [{"x": 0.318, "x2": 3.32}]}, "mark": {"type": "rect", "color": "#FFC0CB", "opacity": 0.18},
   "encoding": {"x": {"field": "x", "type": "quantitative", "title": "DMS", "scale": {"domain": [0.318, 7.82], "nice": false, "zero": false}, "axis": {"values": [1,2,3,4,5,6,7], "tickCount": 20, "format": "d", "labelOverlap": false}}, "x2": {"field": "x2"}}},
  {"data": {"values": [{"x":0.7,"y":0.03},{"x":0.8,"y":0.05},{"x":0.9,"y":0.02},{"x":1.0,"y":0.06},{"x":1.1,"y":0.03},{"x":1.2,"y":0.05},{"x":1.3,"y":0.01},{"x":1.4,"y":0.04},{"x":1.5,"y":0.06},{"x":1.6,"y":0.02},{"x":1.7,"y":0.05},{"x":1.8,"y":0.03},{"x":1.9,"y":0.07},{"x":2.0,"y":0.04},{"x":2.1,"y":0.02},{"x":2.2,"y":0.06},{"x":2.3,"y":0.03},{"x":2.4,"y":0.05},{"x":2.5,"y":0.08},{"x":2.6,"y":0.04},{"x":2.7,"y":0.06},{"x":2.8,"y":0.03},{"x":2.9,"y":0.05},{"x":3.0,"y":0.07},{"x":3.1,"y":0.04},{"x":3.2,"y":0.06},{"x":1.05,"y":0.0},{"x":1.45,"y":-0.02},{"x":1.85,"y":0.0},{"x":2.25,"y":-0.01},{"x":2.65,"y":0.0},{"x":0.95,"y":0.08},{"x":1.75,"y":0.08},{"x":2.45,"y":0.09},{"x":0.85,"y":0.0},{"x":1.25,"y":0.07},{"x":2.05,"y":0.08},{"x":2.85,"y":0.0},{"x":0.68,"y":0.0},{"x":0.7,"y":-0.02},{"x":0.72,"y":-0.05},{"x":0.74,"y":-0.08},{"x":0.7,"y":-0.48},{"x":0.71,"y":-0.53},{"x":0.74,"y":-0.57},{"x":0.65,"y":-0.92},{"x":0.66,"y":-1.21},{"x":2.8,"y":0.157},{"x":2.9,"y":0.2},{"x":3.03,"y":0.268},{"x":3.07,"y":0.226},{"x":3.15,"y":0.3},{"x":3.21,"y":0.337},{"x":3.1,"y":0.18},{"x":3.44,"y":0.35},{"x":3.62,"y":0.295},{"x":3.62,"y":0.185},{"x":3.68,"y":0.3},{"x":3.89,"y":0.342},{"x":3.96,"y":0.323},{"x":3.71,"y":0.226},{"x":3.53,"y":0.171},{"x":3.3,"y":0.25},{"x":3.4,"y":0.2},{"x":3.75,"y":0.27},{"x":4.21,"y":-0.05},{"x":4.25,"y":-0.27},{"x":4.28,"y":-0.326},{"x":4.43,"y":-0.022},{"x":4.53,"y":-0.077},{"x":4.64,"y":-0.18},{"x":4.71,"y":-0.23},{"x":4.75,"y":-0.27},{"x":4.8,"y":-0.12},{"x":4.98,"y":-0.41},{"x":4.89,"y":-0.615},{"x":5.07,"y":-0.56},{"x":5.21,"y":-0.395},{"x":5.25,"y":-0.86},{"x":5.3,"y":-0.52},{"x":5.35,"y":-0.51},{"x":5.68,"y":-0.6},{"x":5.68,"y":-0.77},{"x":5.75,"y":-0.43},{"x":6.62,"y":-0.684},{"x":7.16,"y":-0.69},{"x":7.3,"y":-0.88},{"x":7.48,"y":-0.058}]},
   "mark": {"type": "circle", "size": 38, "opacity": 0.85},
   "encoding": {"x": {"field": "x", "type": "quantitative"}, "y": {"field": "y", "type": "quantitative", "title": ["SHAP value for", "DMS"], "scale": {"domain": [-1.277, 0.419], "nice": false, "zero": false}, "axis": {"values": [-1.2,-1.0,-0.8,-0.6,-0.4,-0.2,0,0.2,0.4], "tickCount": 20, "format": ".1f", "labelOverlap": false, "labelExpr": "replace(datum.label, '\u2212', '-')"}},
    "color": {"datum": "SHAP values", "scale": {"domain": ["SHAP values", "LOWESS Curve", "Intersection at DMS = 3.32", "SHAP = 0"], "range": ["#FFC0CB", "#E4305F", "#9ACD32", "#333333"]},
     "legend": {"title": null, "orient": "top-right",
      "encoding": {"symbols": {
       "shape": {"value": {"expr": "datum.value === 'SHAP values' ? 'circle' : 'M-1.4,0H1.4'"}},
       "size": {"value": {"expr": "datum.value === 'SHAP values' ? 30 : 100"}},
       "fill": {"value": {"expr": "datum.value === 'SHAP values' ? '#FFC0CB' : 'transparent'"}},
       "stroke": {"value": {"expr": "datum.value === 'SHAP values' ? 'transparent' : (datum.value === 'LOWESS Curve' ? '#E4305F' : (indexof(datum.value, 'Intersection') === 0 ? '#9ACD32' : '#333333'))"}},
       "strokeDash": {"value": {"expr": "indexof(datum.value, 'Intersection') === 0 ? [4, 2] : (datum.value === 'SHAP = 0' ? [6, 2, 1, 2] : [1, 0])"}},
       "strokeWidth": {"value": 1.6}}}}}}},
  {"data": {"values": [{"x":0.66,"y":0.033},{"x":1.25,"y":0.039},{"x":2.16,"y":0.047},{"x":2.98,"y":0.055},{"x":3.16,"y":0.033},{"x":3.32,"y":0},{"x":3.98,"y":-0.077},{"x":4.89,"y":-0.188},{"x":5.8,"y":-0.284},{"x":6.71,"y":-0.372},{"x":7.48,"y":-0.436}]},
   "mark": {"type": "line", "strokeWidth": 1.8},
   "encoding": {"x": {"field": "x", "type": "quantitative"}, "y": {"field": "y", "type": "quantitative"}, "color": {"datum": "LOWESS Curve"}}},
  {"data": {"values": [{"x": 3.32}]}, "mark": {"type": "rule", "strokeDash": [4, 2], "strokeWidth": 1.2},
   "encoding": {"x": {"field": "x", "type": "quantitative"}, "color": {"datum": "Intersection at DMS = 3.32"}}},
  {"data": {"values": [{"y": 0}]}, "mark": {"type": "rule", "strokeDash": [6, 2, 1, 2], "strokeWidth": 1, "opacity": 0.8},
   "encoding": {"y": {"field": "y", "type": "quantitative"}, "color": {"datum": "SHAP = 0"}}},
  {"data": {"values": [{"x": 3.32, "y": 0, "label": "DMS = 3.32"}]}, "mark": {"type": "text", "font": "Liberation Serif", "fontSize": 13.5, "color": "#9ACD32", "align": "center", "baseline": "alphabetic", "dx": 3, "dy": -1},
   "encoding": {"x": {"field": "x", "type": "quantitative"}, "y": {"field": "y", "type": "quantitative"}, "text": {"field": "label"}}}
 ]
},
{
 "width": 276, "height": 205,
 "layer": [
  {"data": {"values": [{"x": 3.78, "x2": 32.35}, {"x": 52.41, "x2": 118.9}]}, "mark": {"type": "rect", "color": "#FFC0CB", "opacity": 0.18},
   "encoding": {"x": {"field": "x", "type": "quantitative", "title": "NL", "scale": {"domain": [3.78, 118.9], "nice": false, "zero": false}, "axis": {"values": [20,40,60,80,100], "tickCount": 20, "format": "d", "labelOverlap": false}}, "x2": {"field": "x2"}}},
  {"data": {"values": [{"x":8.9,"y":-0.034},{"x":9.0,"y":0.0},{"x":9.2,"y":0.062},{"x":9.5,"y":0.04},{"x":10,"y":-0.01},{"x":11,"y":0.02},{"x":12,"y":-0.02},{"x":13,"y":0.01},{"x":14,"y":0.03},{"x":15,"y":-0.01},{"x":16,"y":0.02},{"x":17,"y":0.0},{"x":18,"y":-0.02},{"x":18.6,"y":0.18},{"x":19.7,"y":0.188},{"x":20,"y":0.148},{"x":19,"y":0.05},{"x":20.5,"y":0.08},{"x":21,"y":0.03},{"x":22,"y":0.1},{"x":22.5,"y":0.06},{"x":23,"y":0.12},{"x":23.5,"y":0.02},{"x":24.2,"y":0.158},{"x":24.8,"y":0.116},{"x":25,"y":0.07},{"x":25.5,"y":0.04},{"x":26,"y":0.1},{"x":26.5,"y":0.13},{"x":27,"y":0.05},{"x":27.6,"y":0.17},{"x":27.6,"y":0.14},{"x":28,"y":0.09},{"x":28.5,"y":0.03},{"x":29,"y":0.11},{"x":29.5,"y":0.06},{"x":30,"y":0.02},{"x":30.5,"y":0.08},{"x":31,"y":0.04},{"x":29,"y":0.16},{"x":21,"y":0.13},{"x":24,"y":0.01},{"x":26.5,"y":-0.01},{"x":31.5,"y":-0.02},{"x":32,"y":0.02},{"x":33,"y":-0.05},{"x":33.5,"y":0.01},{"x":34,"y":-0.08},{"x":35,"y":-0.03},{"x":35.5,"y":-0.1},{"x":36,"y":-0.06},{"x":37,"y":0.0},{"x":37.5,"y":-0.04},{"x":38,"y":-0.08},{"x":38.5,"y":-0.02},{"x":39,"y":-0.06},{"x":40,"y":-0.09},{"x":40.5,"y":-0.03},{"x":41,"y":-0.05},{"x":42,"y":-0.07},{"x":42.5,"y":0.0},{"x":43,"y":-0.04},{"x":44,"y":-0.08},{"x":45,"y":-0.1},{"x":45,"y":-0.02},{"x":46,"y":-0.05},{"x":47,"y":-0.01},{"x":48,"y":-0.06},{"x":49,"y":0.01},{"x":50,"y":-0.03},{"x":50.5,"y":0.02},{"x":34.5,"y":0.03},{"x":39.5,"y":0.01},{"x":44.5,"y":0.02},{"x":36.5,"y":-0.1},{"x":41.5,"y":-0.1},{"x":51,"y":0.0},{"x":52,"y":0.03},{"x":53,"y":-0.02},{"x":54,"y":0.04},{"x":55,"y":0.01},{"x":56,"y":0.05},{"x":57.4,"y":0.086},{"x":58,"y":0.208},{"x":58.8,"y":0.176},{"x":60.2,"y":0.122},{"x":61.6,"y":0.158},{"x":63.7,"y":0.2},{"x":65,"y":0.182},{"x":65.8,"y":0.14},{"x":67.1,"y":0.206},{"x":69.2,"y":0.224},{"x":69.9,"y":0.122},{"x":71.6,"y":0.194},{"x":72.7,"y":0.224},{"x":74.8,"y":0.11},{"x":73.5,"y":0.17},{"x":62.5,"y":0.14},{"x":64.5,"y":0.16},{"x":66.5,"y":0.17},{"x":68,"y":0.15},{"x":70.5,"y":0.16},{"x":60.5,"y":0.1},{"x":87.2,"y":0.194},{"x":113.2,"y":0.216}]},
   "mark": {"type": "circle", "size": 38, "opacity": 0.85},
   "encoding": {"x": {"field": "x", "type": "quantitative"}, "y": {"field": "y", "type": "quantitative", "title": ["SHAP value for", "NL"], "scale": {"domain": [-0.142, 0.596], "nice": false, "zero": false}, "axis": {"values": [-0.1,0,0.1,0.2,0.3,0.4,0.5], "tickCount": 20, "format": ".1f", "labelOverlap": false, "labelExpr": "replace(datum.label, '\u2212', '-')"}},
    "color": {"datum": "SHAP values", "scale": {"domain": ["SHAP values", "LOWESS Curve", "Intersection at NL = 32.35", "Intersection at NL = 52.41", "SHAP = 0"], "range": ["#FFC0CB", "#E4305F", "#9ACD32", "#9ACD32", "#333333"]},
     "legend": {"title": null, "orient": "top-left",
      "encoding": {"symbols": {
       "shape": {"value": {"expr": "datum.value === 'SHAP values' ? 'circle' : 'M-1.4,0H1.4'"}},
       "size": {"value": {"expr": "datum.value === 'SHAP values' ? 30 : 100"}},
       "fill": {"value": {"expr": "datum.value === 'SHAP values' ? '#FFC0CB' : 'transparent'"}},
       "stroke": {"value": {"expr": "datum.value === 'SHAP values' ? 'transparent' : (datum.value === 'LOWESS Curve' ? '#E4305F' : (indexof(datum.value, 'Intersection') === 0 ? '#9ACD32' : '#333333'))"}},
       "strokeDash": {"value": {"expr": "indexof(datum.value, 'Intersection') === 0 ? [4, 2] : (datum.value === 'SHAP = 0' ? [6, 2, 1, 2] : [1, 0])"}},
       "strokeWidth": {"value": 1.6}}}}}}},
  {"data": {"values": [{"x":9.2,"y":0.082},{"x":14.5,"y":0.062},{"x":20,"y":0.042},{"x":26.9,"y":0.018},{"x":31.5,"y":0},{"x":35.2,"y":-0.022},{"x":39.4,"y":-0.04},{"x":42.2,"y":-0.04},{"x":46.3,"y":-0.03},{"x":49.8,"y":-0.016},{"x":51.9,"y":0},{"x":56.05,"y":0.044},{"x":61.6,"y":0.096},{"x":75.5,"y":0.218},{"x":89.4,"y":0.344},{"x":103.2,"y":0.464},{"x":113.6,"y":0.562}]},
   "mark": {"type": "line", "strokeWidth": 1.8, "interpolate": "monotone"},
   "encoding": {"x": {"field": "x", "type": "quantitative"}, "y": {"field": "y", "type": "quantitative"}, "color": {"datum": "LOWESS Curve"}}},
  {"data": {"values": [{"x": 32.35}]}, "mark": {"type": "rule", "strokeDash": [4, 2], "strokeWidth": 1.2},
   "encoding": {"x": {"field": "x", "type": "quantitative"}, "color": {"datum": "Intersection at NL = 32.35"}}},
  {"data": {"values": [{"x": 52.41}]}, "mark": {"type": "rule", "strokeDash": [4, 2], "strokeWidth": 1.2},
   "encoding": {"x": {"field": "x", "type": "quantitative"}, "color": {"datum": "Intersection at NL = 52.41"}}},
  {"data": {"values": [{"y": 0}]}, "mark": {"type": "rule", "strokeDash": [6, 2, 1, 2], "strokeWidth": 1, "opacity": 0.8},
   "encoding": {"y": {"field": "y", "type": "quantitative"}, "color": {"datum": "SHAP = 0"}}},
  {"data": {"values": [{"x": 32.35, "y": 0, "label": "NL = 32.35"}]}, "mark": {"type": "text", "font": "Liberation Serif", "fontSize": 13.5, "color": "#9ACD32", "align": "center", "baseline": "alphabetic", "dx": 0, "dy": -1},
   "encoding": {"x": {"field": "x", "type": "quantitative"}, "y": {"field": "y", "type": "quantitative"}, "text": {"field": "label"}}},
  {"data": {"values": [{"x": 52.41, "y": 0, "label": "NL = 52.41"}]}, "mark": {"type": "text", "font": "Liberation Serif", "fontSize": 13.5, "color": "#9ACD32", "align": "center", "baseline": "alphabetic", "dx": 37, "dy": -1},
   "encoding": {"x": {"field": "x", "type": "quantitative"}, "y": {"field": "y", "type": "quantitative"}, "text": {"field": "label"}}}
 ]
},
{
 "width": 276, "height": 205,
 "layer": [
  {"data": {"values": [{"x": 0.217, "x2": 7.34}]}, "mark": {"type": "rect", "color": "#FFC0CB", "opacity": 0.18},
   "encoding": {"x": {"field": "x", "type": "quantitative", "title": "HP", "scale": {"domain": [0.217, 18.02], "nice": false, "zero": false}, "axis": {"values": [2,4,6,8,10,12,14,16,18], "tickCount": 20, "format": "d", "labelOverlap": false}}, "x2": {"field": "x2"}}},
  {"data": {"values": [{"x":0.97,"y":0.51},{"x":1.0,"y":0.42},{"x":1.05,"y":0.4},{"x":1.46,"y":0.41},{"x":2.06,"y":0.4},{"x":2.2,"y":0.4},{"x":2.58,"y":0.33},{"x":2.86,"y":0.735},{"x":2.97,"y":0.627},{"x":3.4,"y":0.6},{"x":3.6,"y":0.46},{"x":3.8,"y":0.82},{"x":4.04,"y":0.84},{"x":4.47,"y":0.233},{"x":5.33,"y":1.13},{"x":5.44,"y":0.97},{"x":5.54,"y":0.89},{"x":5.76,"y":0.81},{"x":5.87,"y":0.71},{"x":5.93,"y":0.59},{"x":5.97,"y":0.45},{"x":5.22,"y":0.84},{"x":3.7,"y":0.55},{"x":3.9,"y":0.48},{"x":4.0,"y":0.6},{"x":4.1,"y":0.4},{"x":4.2,"y":0.52},{"x":4.3,"y":0.45},{"x":4.4,"y":0.58},{"x":4.5,"y":0.38},{"x":4.6,"y":0.5},{"x":4.7,"y":0.43},{"x":4.8,"y":0.62},{"x":4.9,"y":0.35},{"x":5.0,"y":0.47},{"x":5.1,"y":0.55},{"x":5.2,"y":0.4},{"x":5.3,"y":0.68},{"x":5.4,"y":0.5},{"x":5.5,"y":0.78},{"x":5.6,"y":0.6},{"x":5.7,"y":0.65},{"x":5.8,"y":0.52},{"x":5.9,"y":0.95},{"x":6.0,"y":0.7},{"x":6.1,"y":0.58},{"x":5.6,"y":0.88},{"x":5.4,"y":0.72},{"x":5.1,"y":0.3},{"x":4.4,"y":0.3},{"x":3.3,"y":0.48},{"x":4.65,"y":0.66},{"x":5.8,"y":0.25},{"x":5.9,"y":0.18},{"x":6.0,"y":0.28},{"x":6.1,"y":0.12},{"x":6.2,"y":0.22},{"x":6.3,"y":0.08},{"x":6.4,"y":0.26},{"x":6.5,"y":0.15},{"x":6.6,"y":0.05},{"x":6.7,"y":0.2},{"x":6.8,"y":0.1},{"x":6.9,"y":0.27},{"x":7.0,"y":0.03},{"x":7.1,"y":0.15},{"x":7.2,"y":0.08},{"x":6.08,"y":-0.19},{"x":6.19,"y":-0.26},{"x":6.12,"y":-0.335},{"x":5.97,"y":0.02},{"x":6.4,"y":0.0},{"x":7.3,"y":-0.1},{"x":7.4,"y":-0.05},{"x":7.5,"y":-0.2},{"x":7.6,"y":-0.12},{"x":7.7,"y":-0.28},{"x":7.8,"y":-0.15},{"x":7.9,"y":-0.08},{"x":8.0,"y":-0.22},{"x":8.1,"y":-0.32},{"x":8.2,"y":-0.18},{"x":8.3,"y":-0.1},{"x":8.4,"y":-0.25},{"x":8.5,"y":-0.35},{"x":8.6,"y":-0.2},{"x":8.7,"y":-0.13},{"x":8.8,"y":-0.28},{"x":8.9,"y":-0.22},{"x":9.0,"y":-0.38},{"x":9.2,"y":-0.07},{"x":9.3,"y":-0.25},{"x":9.5,"y":-0.18},{"x":9.6,"y":-0.3},{"x":9.8,"y":-0.22},{"x":10.0,"y":-0.35},{"x":10.2,"y":-0.27},{"x":10.4,"y":-0.2},{"x":10.6,"y":-0.38},{"x":10.8,"y":-0.3},{"x":11.0,"y":-0.25},{"x":11.2,"y":-0.4},{"x":11.4,"y":-0.33},{"x":11.6,"y":-0.28},{"x":12.0,"y":-0.31},{"x":9.1,"y":-0.42},{"x":10.0,"y":-0.15},{"x":11.8,"y":-0.45},{"x":12.0,"y":-0.55},{"x":12.2,"y":-0.5},{"x":12.4,"y":-0.6},{"x":12.6,"y":-0.45},{"x":12.8,"y":-0.52},{"x":13.0,"y":-0.48},{"x":13.23,"y":-0.72},{"x":13.4,"y":-0.55},{"x":13.6,"y":-0.61},{"x":13.8,"y":-0.47},{"x":14.0,"y":-0.53},{"x":14.2,"y":-0.58},{"x":14.35,"y":-0.67},{"x":14.35,"y":-0.184},{"x":14.5,"y":-0.5},{"x":14.7,"y":-0.45},{"x":15.0,"y":-0.55},{"x":15.2,"y":-0.48},{"x":15.5,"y":-0.52},{"x":15.64,"y":-0.59},{"x":15.79,"y":-0.325},{"x":16.07,"y":-0.25},{"x":16.2,"y":-0.55},{"x":17.18,"y":-0.43},{"x":12.2,"y":-0.38},{"x":13.0,"y":-0.4},{"x":14.0,"y":-0.42}]},
   "mark": {"type": "circle", "size": 38, "opacity": 0.85},
   "encoding": {"x": {"field": "x", "type": "quantitative"}, "y": {"field": "y", "type": "quantitative", "title": ["SHAP value for", "HP"], "scale": {"domain": [-0.8, 1.22], "nice": false, "zero": false}, "axis": {"values": [-0.75,-0.5,-0.25,0,0.25,0.5,0.75,1.0], "tickCount": 20, "format": ".2f", "labelOverlap": false, "labelExpr": "replace(datum.label, '\u2212', '-')"}},
    "color": {"datum": "SHAP values", "scale": {"domain": ["SHAP values", "LOWESS Curve", "Intersection at HP = 7.34", "SHAP = 0"], "range": ["#FFC0CB", "#E4305F", "#9ACD32", "#333333"]},
     "legend": {"title": null, "orient": "top-right",
      "encoding": {"symbols": {
       "shape": {"value": {"expr": "datum.value === 'SHAP values' ? 'circle' : 'M-1.4,0H1.4'"}},
       "size": {"value": {"expr": "datum.value === 'SHAP values' ? 30 : 100"}},
       "fill": {"value": {"expr": "datum.value === 'SHAP values' ? '#FFC0CB' : 'transparent'"}},
       "stroke": {"value": {"expr": "datum.value === 'SHAP values' ? 'transparent' : (datum.value === 'LOWESS Curve' ? '#E4305F' : (indexof(datum.value, 'Intersection') === 0 ? '#9ACD32' : '#333333'))"}},
       "strokeDash": {"value": {"expr": "indexof(datum.value, 'Intersection') === 0 ? [4, 2] : (datum.value === 'SHAP = 0' ? [6, 2, 1, 2] : [1, 0])"}},
       "strokeWidth": {"value": 1.6}}}}}}},
  {"data": {"values": [{"x":0.97,"y":0.726},{"x":1.89,"y":0.643},{"x":2.97,"y":0.538},{"x":4.04,"y":0.43},{"x":4.9,"y":0.33},{"x":5.54,"y":0.233},{"x":6.19,"y":0.151},{"x":6.83,"y":0.069},{"x":7.3,"y":0},{"x":7.69,"y":-0.079},{"x":8.34,"y":-0.144},{"x":9.41,"y":-0.227},{"x":10.48,"y":-0.292},{"x":11.56,"y":-0.351},{"x":12.63,"y":-0.397},{"x":13.7,"y":-0.446},{"x":15.85,"y":-0.522},{"x":17.18,"y":-0.571}]},
   "mark": {"type": "line", "strokeWidth": 1.8, "interpolate": "monotone"},
   "encoding": {"x": {"field": "x", "type": "quantitative"}, "y": {"field": "y", "type": "quantitative"}, "color": {"datum": "LOWESS Curve"}}},
  {"data": {"values": [{"x": 7.34}]}, "mark": {"type": "rule", "strokeDash": [4, 2], "strokeWidth": 1.2},
   "encoding": {"x": {"field": "x", "type": "quantitative"}, "color": {"datum": "Intersection at HP = 7.34"}}},
  {"data": {"values": [{"y": 0}]}, "mark": {"type": "rule", "strokeDash": [6, 2, 1, 2], "strokeWidth": 1, "opacity": 0.8},
   "encoding": {"y": {"field": "y", "type": "quantitative"}, "color": {"datum": "SHAP = 0"}}},
  {"data": {"values": [{"x": 7.34, "y": 0, "label": "HP = 7.34"}]}, "mark": {"type": "text", "font": "Liberation Serif", "fontSize": 13.5, "color": "#9ACD32", "align": "center", "baseline": "alphabetic", "dx": 10, "dy": -1},
   "encoding": {"x": {"field": "x", "type": "quantitative"}, "y": {"field": "y", "type": "quantitative"}, "text": {"field": "label"}}}
 ]
}
]
}
